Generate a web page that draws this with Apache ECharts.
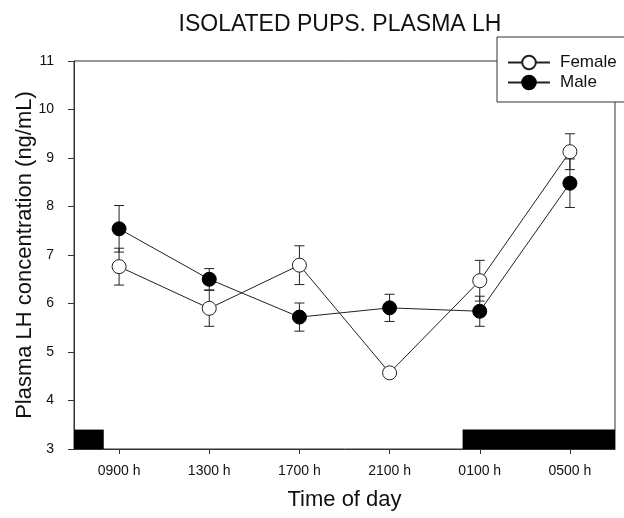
<!DOCTYPE html>
<html lang="en">
<head>
    <meta charset="UTF-8">
    <title>Isolated pups plasma LH</title>
    <script src="https://cdn.jsdelivr.net/npm/echarts@6/dist/echarts.min.js"></script>
    <style>
        html, body { margin: 0; padding: 0; background: #fff; }
    </style>
</head>
<body>
    <div id="main" style="width: 624px;height:518px;"></div>
    <script type="text/javascript">
        // chart data
        var times = ['0900 h', '1300 h', '1700 h', '2100 h', '0100 h', '0500 h'];
        var female = [6.76, 5.90, 6.79, 4.57, 6.47, 9.13];
        var femaleErr = [0.38, 0.37, 0.40, 0.08, 0.42, 0.37];
        var male = [7.54, 6.50, 5.72, 5.91, 5.84, 8.48];
        var maleErr = [0.48, 0.22, 0.29, 0.28, 0.31, 0.50];
        // dark period bars (x from, x to) along the bottom
        var darkStart = [-0.5, 3.81];
        var darkEnd = [-0.17, 5.5];
        var darkTop = 3.4;
        var yTicks = [3, 4, 5, 6, 7, 8, 9, 10, 11];

        var txt = '#111';
        var lineCol = '#333';
        var font = 'Liberation Sans, Arial, sans-serif';

        function points(vals) {
            return vals.map(function (v, i) { return [i, v]; });
        }
        function errData(vals, errs) {
            return vals.map(function (v, i) { return [i, v - errs[i], v + errs[i]]; });
        }
        var darkData = darkStart.map(function (s, i) { return [s, darkEnd[i], darkTop]; });

        function renderErr(params, api) {
            var lo = api.coord([api.value(0), api.value(1)]);
            var hi = api.coord([api.value(0), api.value(2)]);
            var w = 5;
            var st = { stroke: '#222', lineWidth: 1 };
            return {
                type: 'group',
                children: [
                    { type: 'line', shape: { x1: lo[0], y1: lo[1], x2: hi[0], y2: hi[1] }, style: st },
                    { type: 'line', shape: { x1: lo[0] - w, y1: lo[1], x2: lo[0] + w, y2: lo[1] }, style: st },
                    { type: 'line', shape: { x1: hi[0] - w, y1: hi[1], x2: hi[0] + w, y2: hi[1] }, style: st }
                ]
            };
        }

        function renderDark(params, api) {
            var a = api.coord([api.value(0), api.value(2)]);
            var b = api.coord([api.value(1), yTicks[0]]);
            return {
                type: 'rect',
                shape: { x: a[0], y: a[1], width: b[0] - a[0], height: b[1] - a[1] },
                style: { fill: '#000' }
            };
        }

        var myChart = echarts.init(document.getElementById('main'));
        var option = {
            animation: false,
            backgroundColor: '#fff',
            textStyle: { fontFamily: font },
            title: {
                text: 'ISOLATED PUPS. PLASMA LH',
                left: 335,
                textAlign: 'center',
                top: 8,
                textStyle: { fontSize: 23, fontWeight: 'normal', color: txt, fontFamily: font }
            },
            legend: {
                data: ['Female', 'Male'],
                orient: 'vertical',
                left: 497,
                top: 37,
                backgroundColor: '#fff',
                borderColor: lineCol,
                borderWidth: 1,
                borderRadius: 0,
                padding: [17, 60, 11, 10],
                itemGap: 3,
                itemWidth: 42,
                itemHeight: 17,
                textStyle: { fontSize: 17, color: txt, fontFamily: font, padding: [0, 0, 0, 5] }
            },
            grid: {
                left: 74,
                right: 9,
                top: 61,
                bottom: 69,
                outerBoundsMode: 'none',
                containLabel: false,
                show: true,
                borderColor: lineCol,
                borderWidth: 1,
                backgroundColor: 'transparent'
            },
            xAxis: {
                type: 'value',
                min: -0.5,
                max: 5.5,
                name: 'Time of day',
                nameLocation: 'middle',
                nameGap: 40,
                nameMoveOverlap: false,
                nameTextStyle: { fontSize: 22, color: txt, fontFamily: font },
                splitLine: { show: false },
                axisLine: { onZero: false, lineStyle: { color: lineCol } },
                axisTick: { length: 5, lineStyle: { color: lineCol }, customValues: [0, 1, 2, 3, 4, 5] },
                axisLabel: {
                    customValues: [0, 1, 2, 3, 4, 5],
                    margin: 15,
                    fontSize: 14,
                    color: txt,
                    formatter: function (v) { return times[Math.round(v)]; }
                }
            },
            yAxis: {
                type: 'value',
                min: 3,
                max: 11,
                interval: 1,
                name: 'Plasma LH concentration (ng/mL)',
                nameLocation: 'middle',
                nameGap: 38,
                nameMoveOverlap: false,
                nameTextStyle: { fontSize: 22, color: txt, fontFamily: font },
                splitLine: { show: false },
                axisLine: { show: true, onZero: false, lineStyle: { color: lineCol } },
                axisTick: { show: true, length: 6, lineStyle: { color: lineCol } },
                axisLabel: { margin: 20, fontSize: 14, color: txt }
            },
            series: [
                {
                    name: 'dark',
                    type: 'custom',
                    renderItem: renderDark,
                    data: darkData,
                    encode: { x: [0, 1], y: 2 },
                    silent: true,
                    z: 1
                },
                {
                    name: 'femaleErr',
                    type: 'custom',
                    renderItem: renderErr,
                    data: errData(female, femaleErr),
                    encode: { x: 0, y: [1, 2] },
                    z: 2
                },
                {
                    name: 'maleErr',
                    type: 'custom',
                    renderItem: renderErr,
                    data: errData(male, maleErr),
                    encode: { x: 0, y: [1, 2] },
                    z: 2
                },
                {
                    name: 'Female',
                    type: 'line',
                    data: points(female),
                    symbol: 'circle',
                    symbolSize: 14,
                    lineStyle: { color: '#222', width: 1 },
                    itemStyle: { color: '#fff', borderColor: '#222', borderWidth: 1 },
                    z: 3
                },
                {
                    name: 'Male',
                    type: 'line',
                    data: points(male),
                    symbol: 'circle',
                    symbolSize: 14,
                    lineStyle: { color: '#222', width: 1 },
                    itemStyle: { color: '#000', borderColor: '#000', borderWidth: 1 },
                    z: 4
                }
            ]
        };
        myChart.setOption(option);
    </script>
</body>
</html>
